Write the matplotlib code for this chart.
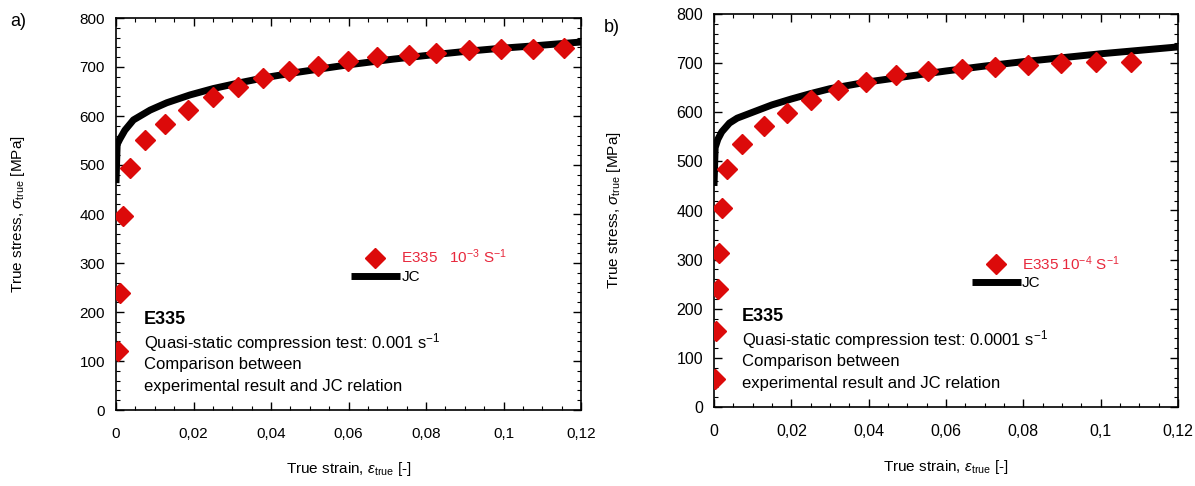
import numpy as np
import matplotlib
matplotlib.use('Agg')
import matplotlib.pyplot as plt
from matplotlib.ticker import MultipleLocator, FuncFormatter

plt.rcParams['font.family'] = ['Liberation Sans', 'DejaVu Sans']
plt.rcParams['mathtext.fontset'] = 'custom'
plt.rcParams['mathtext.rm'] = 'Liberation Sans'
plt.rcParams['mathtext.it'] = 'Liberation Sans:italic'
plt.rcParams['mathtext.bf'] = 'Liberation Sans:bold'

# panel a) - strain rate 1e-3
exp_a_strain = [0.0005, 0.001, 0.0018, 0.0035, 0.0076, 0.0126, 0.0186, 0.025, 0.0314, 0.038,
                0.0446, 0.052, 0.0598, 0.0674, 0.0756, 0.0827, 0.091, 0.0993, 0.1077, 0.1156]
exp_a_stress = [120, 239, 396, 494, 550, 583, 612, 639, 659, 678,
                692, 702, 712, 720, 725, 729, 734, 736, 737, 738]
jc_a_strain = [0, 0.0003, 0.001, 0.0023, 0.0045, 0.0088, 0.0131, 0.0191, 0.0251, 0.032,
               0.0389, 0.0475, 0.0595, 0.0715, 0.0818, 0.0904, 0.099, 0.1076, 0.12]
jc_a_stress = [463, 542, 553, 571, 592, 612, 627, 643, 656, 668,
               679, 690, 704, 716, 725, 732, 738, 743, 751]

# panel b) - strain rate 1e-4
exp_b_strain = [0.0003, 0.0005, 0.001, 0.0013, 0.002, 0.0034, 0.0072, 0.0129, 0.0189, 0.025,
                0.0321, 0.0394, 0.047, 0.0553, 0.0642, 0.0727, 0.0811, 0.0898, 0.0987, 0.1078]
exp_b_stress = [58, 155, 240, 313, 406, 485, 536, 572, 598, 625,
                645, 662, 676, 683, 689, 693, 696, 700, 702, 702]
jc_b_strain = [0, 0.0003, 0.001, 0.002, 0.004, 0.006, 0.01, 0.015, 0.02, 0.025,
               0.03, 0.04, 0.05, 0.06, 0.07, 0.08, 0.09, 0.1, 0.11, 0.12]
jc_b_stress = [450, 528, 545, 560, 578, 588, 600, 615, 627, 638,
               648, 662, 673, 684, 694, 703, 711, 719, 726, 733]

x_ticks = [0, 0.02, 0.04, 0.06, 0.08, 0.1, 0.12]

red = '#dc0a0a'
red_txt = '#e8283c'


def comma_fmt(v, pos):
    s = ('%.2f' % v).rstrip('0').rstrip('.')
    return s.replace('.', ',')


def draw(ax, xs, ys, xj, yj, leg_label, rate_text, leg_pos, tick_fs):
    ax.plot(xj, yj, color='black', lw=5, solid_capstyle='butt', label='JC', zorder=2)
    ax.plot(xs, ys, ls='none', marker='D', ms=10, color=red, mec=red, label=leg_label, zorder=3)
    ax.set_xlim(0, 0.12)
    ax.set_ylim(0, 800)
    ax.set_xticks(x_ticks)
    ax.xaxis.set_major_formatter(FuncFormatter(comma_fmt))
    ax.xaxis.set_minor_locator(MultipleLocator(0.005))
    ax.yaxis.set_major_locator(MultipleLocator(100))
    ax.yaxis.set_minor_locator(MultipleLocator(20))
    ax.tick_params(which='both', direction='in', top=True, right=True, labelsize=tick_fs)
    ax.tick_params(which='major', length=6, width=1)
    ax.tick_params(which='minor', length=3, width=0.8)
    ax.tick_params(axis='x', pad=12)
    ax.tick_params(axis='y', pad=8)
    for s in ax.spines.values():
        s.set_linewidth(1.2)
    ax.set_xlabel(r'True strain, $\varepsilon_{\mathrm{true}}$ [-]', fontsize=11, labelpad=14)
    ax.set_ylabel(r'True stress, $\sigma_{\mathrm{true}}$ [MPa]', fontsize=11, labelpad=38)

    h, l = ax.get_legend_handles_labels()
    ax.legend(h[::-1], l[::-1], loc='center left', bbox_to_anchor=leg_pos, frameon=False,
              fontsize=11, handlelength=3.2, handletextpad=0.1, labelspacing=0.25,
              borderpad=0, labelcolor=[red_txt, 'black'])

    ax.text(0.06, 0.23, 'E335', transform=ax.transAxes, fontsize=13, fontweight='bold',
            va='center', ha='left')
    ax.text(0.06, 0.171, 'Quasi-static compression test: ' + rate_text, transform=ax.transAxes,
            fontsize=12, va='center', ha='left')
    ax.text(0.06, 0.115, 'Comparison between', transform=ax.transAxes,
            fontsize=12, va='center', ha='left')
    ax.text(0.06, 0.059, 'experimental result and JC relation', transform=ax.transAxes,
            fontsize=12, va='center', ha='left')


fig = plt.figure(figsize=(11.95, 4.86), dpi=100)
ax1 = fig.add_axes([116 / 1195, 1 - 410 / 486, 465 / 1195, 392 / 486])
ax2 = fig.add_axes([714 / 1195, 1 - 407 / 486, 464 / 1195, 393 / 486])

draw(ax1, exp_a_strain, exp_a_stress, jc_a_strain, jc_a_stress,
     r'E335   10$^{-3}$ S$^{-1}$', r'0.001 s$^{-1}$', (0.489, 0.368), 11)
draw(ax2, exp_b_strain, exp_b_stress, jc_b_strain, jc_b_stress,
     r'E335 10$^{-4}$ S$^{-1}$', r'0.0001 s$^{-1}$', (0.539, 0.343), 11.5)

fig.text(10 / 1195, 1 - 22 / 486, 'a)', fontsize=13, va='center', ha='left')
fig.text(604 / 1195, 1 - 27 / 486, 'b)', fontsize=13, va='center', ha='left')

fig.savefig('out.png', dpi=100)
